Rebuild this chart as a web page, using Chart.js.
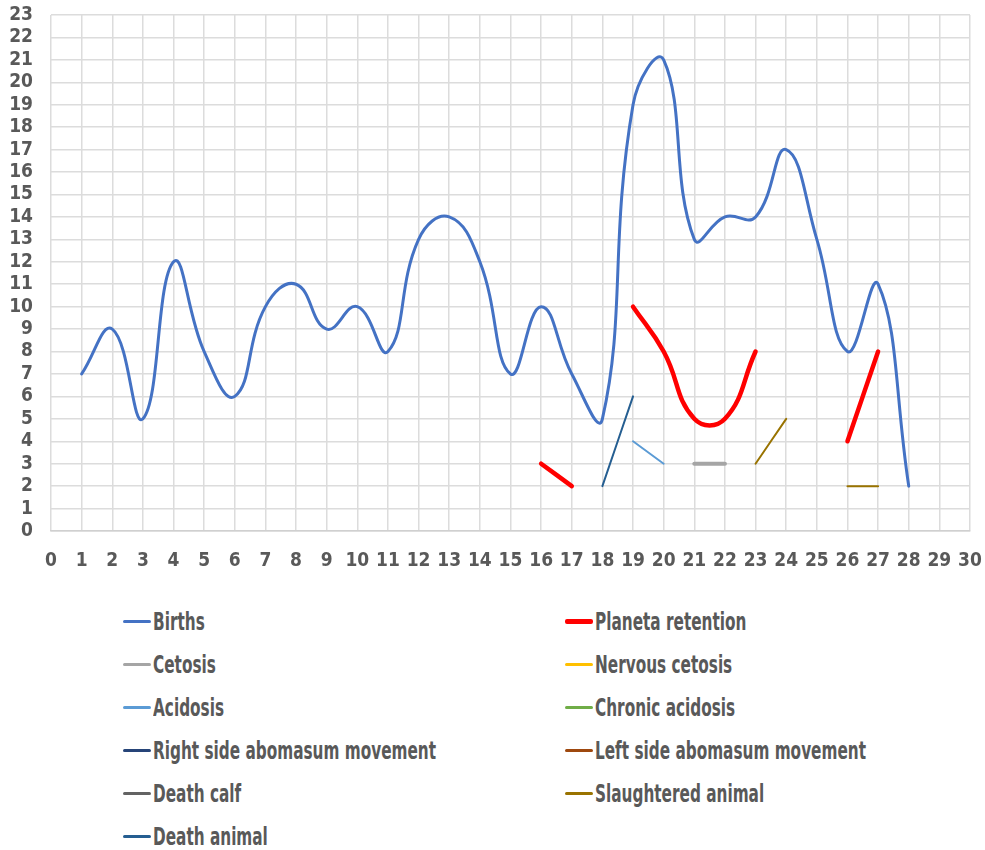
<!DOCTYPE html>
<html>
<head>
<meta charset="utf-8">
<script src="https://cdn.jsdelivr.net/npm/chart.js@4/dist/chart.umd.min.js"></script>
<style>
  html, body { margin: 0; padding: 0; background: #ffffff; }
  #wrap { position: relative; width: 985px; height: 850px; overflow: hidden; }
  #c { position: absolute; left: 0; top: 0; }
  #legend {
    position: absolute; left: 123px; top: 600px;
    display: grid; grid-template-columns: 442px 400px; grid-auto-rows: 43px;
    font-family: 'DejaVu Sans', sans-serif; font-stretch: condensed;
    font-weight: bold; font-size: 25px; color: #595959;
  }
  .item { display: flex; align-items: center; white-space: nowrap; }
  .swatch { width: 28px; margin-right: 2px; border-radius: 2px; flex: none; }
  .txt { display: inline-block; transform: scaleX(0.68); transform-origin: left center; }
</style>
</head>
<body>
<div id="wrap">
  <canvas id="c" width="985" height="580"></canvas>
  <div id="legend"></div>
</div>
<script>
// ---- data (days 1..28) ----
const days = [1,2,3,4,5,6,7,8,9,10,11,12,13,14,15,16,17,18,19,20,21,22,23,24,25,26,27,28];
const births = [7,9,5,12,8,6,10,11,9,10,8,13,14,12,7,10,7,5,19,21,13,14,14,17,13,8,11,2];
const planetaRetention = [null,null,null,null,null,null,null,null,null,null,null,null,null,null,null,3,2,null,10,8,5,5,8,null,null,4,8,null];
const cetosis = [null,null,null,null,null,null,null,null,null,null,null,null,null,null,null,null,null,null,null,null,3,3,null,null,null,null,null,null];
const nervousCetosis = [];
const acidosis = [null,null,null,null,null,null,null,null,null,null,null,null,null,null,null,null,null,null,4,3,null,null,null,null,null,null,null,null];
const chronicAcidosis = [];
const rightSideAbomasum = [];
const leftSideAbomasum = [];
const deathCalf = [];
const slaughteredAnimal = [null,null,null,null,null,null,null,null,null,null,null,null,null,null,null,null,null,null,null,null,null,null,3,5,null,2,2,null];
const deathAnimal = [null,null,null,null,null,null,null,null,null,null,null,null,null,null,null,null,null,2,6,null,null,null,null,null,null,null,null,null];
const xTicks = [0,1,2,3,4,5,6,7,8,9,10,11,12,13,14,15,16,17,18,19,20,21,22,23,24,25,26,27,28,29,30];
const yTicks = [0,1,2,3,4,5,6,7,8,9,10,11,12,13,14,15,16,17,18,19,20,21,22,23];

const seriesDefs = [
  { label: 'Births', values: births, color: '#4472C4', width: 3 },
  { label: 'Planeta retention', values: planetaRetention, color: '#FF0000', width: 4.5 },
  { label: 'Cetosis', values: cetosis, color: '#A5A5A5', width: 4 },
  { label: 'Nervous cetosis', values: nervousCetosis, color: '#FFC000', width: 2.5 },
  { label: 'Acidosis', values: acidosis, color: '#5B9BD5', width: 2 },
  { label: 'Chronic acidosis', values: chronicAcidosis, color: '#70AD47', width: 2.5 },
  { label: 'Right side abomasum movement', values: rightSideAbomasum, color: '#264478', width: 2.5 },
  { label: 'Left side abomasum movement', values: leftSideAbomasum, color: '#9E480E', width: 2.5 },
  { label: 'Death calf', values: deathCalf, color: '#636363', width: 2.5 },
  { label: 'Slaughtered animal', values: slaughteredAnimal, color: '#997300', width: 2 },
  { label: 'Death animal', values: deathAnimal, color: '#255E91', width: 2 }
];

const datasets = seriesDefs.map(s => ({
  label: s.label,
  data: days.map((d, i) => ({ x: d, y: (s.values[i] === undefined ? null : s.values[i]) })),
  borderColor: s.color,
  backgroundColor: s.color,
  borderWidth: s.width,
  pointRadius: 0,
  pointHoverRadius: 0,
  tension: 0.45,
  spanGaps: false,
  fill: false,
  borderCapStyle: 'round',
  borderJoinStyle: 'round'
}));

const tickFont = { family: "'DejaVu Sans', sans-serif", weight: 'bold condensed', size: 19 };
const gridColor = '#dcdcdc';

new Chart(document.getElementById('c'), {
  type: 'line',
  data: { datasets },
  options: {
    responsive: false,
    devicePixelRatio: 1,
    animation: false,
    layout: { padding: { left: 0, right: 15, top: 15, bottom: 0 } },
    plugins: { legend: { display: false }, tooltip: { enabled: false } },
    scales: {
      x: {
        type: 'linear', min: 0, max: 30,
        afterBuildTicks: sc => { sc.ticks = xTicks.map(v => ({ value: v })); },
        afterFit: sc => { sc.height = 49; sc.paddingLeft = 0; sc.paddingRight = 0; },
        ticks: { autoSkip: false, maxRotation: 0, color: '#595959', font: tickFont, padding: 19 },
        grid: { color: gridColor, lineWidth: 1.5, drawTicks: false },
        border: { color: '#d0d0d0', width: 1.5 }
      },
      y: {
        type: 'linear', min: 0, max: 23,
        afterBuildTicks: sc => { sc.ticks = yTicks.map(v => ({ value: v })); },
        afterFit: sc => { sc.width = 51; sc.paddingTop = 0; sc.paddingBottom = 0; },
        ticks: { autoSkip: false, color: '#595959', font: tickFont, padding: 18 },
        grid: { color: gridColor, lineWidth: 1.5, drawTicks: false },
        border: { display: false }
      }
    }
  }
});

// HTML legend in two columns
const legend = document.getElementById('legend');
seriesDefs.forEach(s => {
  const item = document.createElement('div');
  item.className = 'item';
  const sw = document.createElement('span');
  sw.className = 'swatch';
  sw.style.height = (s.label === 'Planeta retention' ? 5 : (s.label === 'Births' ? 3 : 2.5)) + 'px';
  sw.style.background = s.color;
  const tx = document.createElement('span');
  tx.className = 'txt';
  tx.textContent = s.label;
  item.appendChild(sw); item.appendChild(tx);
  legend.appendChild(item);
});
</script>
</body>
</html>
